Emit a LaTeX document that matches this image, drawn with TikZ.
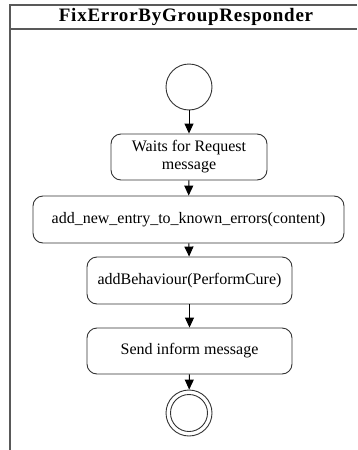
\documentclass[tikz,border=0pt]{standalone}
\usepackage{fontspec}
\setmainfont{Liberation Serif}
\usetikzlibrary{arrows.meta}
\begin{document}
\begin{tikzpicture}[x=1pt,y=-1pt,
  action/.style={draw=black!80,line width=0.9pt,rounded corners=10pt,align=center,
    inner sep=0pt,font=\fontsize{16}{18}\selectfont},
  flow/.style={draw=black,line width=1pt,-{Triangle[length=10pt,width=9pt]}},
  frameline/.style={draw=black!65,line width=2pt},
  startnode/.style={circle,draw=black!80,line width=0.9pt,minimum size=46pt,inner sep=0pt},
  endouter/.style={circle,draw=black!80,line width=0.9pt,minimum size=46pt,inner sep=0pt},
  endinner/.style={circle,draw=black!80,line width=0.9pt,minimum size=37pt,inner sep=0pt}]
\useasboundingbox (0,0) rectangle (357,450);
% swimlane frame
\draw[frameline] (357,5) -- (10,5) -- (10,450);
\draw[frameline] (10,29) -- (357,29);
\node[font=\fontsize{19}{21}\selectfont\bfseries\addfontfeatures{LetterSpace=4}] (title) at (186,17) {FixErrorByGroupResponder};
% activity nodes
\node[startnode] (start) at (189,87) {};
\node[action,minimum width=156pt,minimum height=46pt] (wait) at (189,157) {Waits for Request\\message};
\node[action,minimum width=311pt,minimum height=47pt] (add) at (188.5,219.5) {add\_new\_entry\_to\_known\_errors(content)};
\node[action,minimum width=205pt,minimum height=47pt] (beh) at (189.5,280.5) {addBehaviour(PerformCure)};
\node[action,minimum width=205pt,minimum height=46pt] (send) at (189.5,351) {Send inform message};
\node[endouter] (stop) at (189,413) {};
\node[endinner] (stopin) at (stop) {};
% transitions
\draw[flow] (start) -- (wait);
\draw[flow] (wait) -- (add);
\draw[flow] (add) -- (beh);
\draw[flow] (beh) -- (send);
\draw[flow] (send) -- (stop);
\end{tikzpicture}
\end{document}
